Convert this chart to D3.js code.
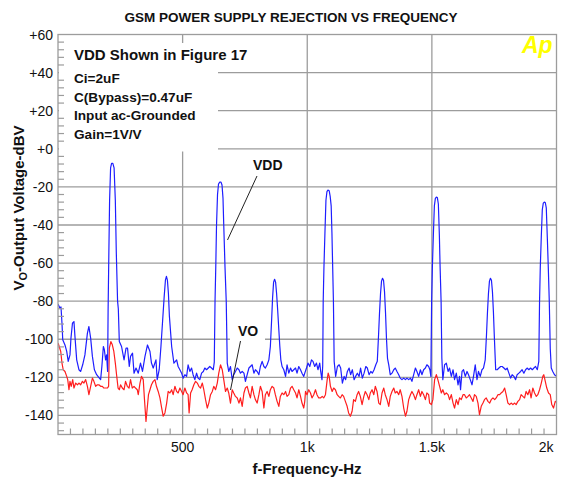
<!DOCTYPE html>
<html><head><meta charset="utf-8">
<script src="https://cdn.jsdelivr.net/npm/d3@7"></script>
<style>
body{margin:0;background:#fff}
svg{display:block}
text{font-family:"Liberation Sans",Arial,Helvetica,sans-serif}
</style>
</head><body>
<svg id="chart" width="564" height="480"></svg>
<script>
// ---- data ----
const title = "GSM POWER SUPPLY REJECTION VS FREQUENCY";
const xTicks = [500, 1000, 1500, 2000];
const xTickLabels = ["500", "1k", "1.5k", "2k"];
const yTicks = [60, 40, 20, 0, -20, -40, -60, -80, -100, -120, -140];
const yTickLabels = ["+60", "+40", "+20", "+0", "-20", "-40", "-60", "-80", "-100", "-120", "-140"];
const noteTitle = "VDD Shown in Figure 17";
const noteLines = ["Ci=2uF", "C(Bypass)=0.47uF", "Input ac-Grounded", "Gain=1V/V"];

// VDD trace: [frequency Hz, dBV]
const vdd = [
[0,-81.5],[8,-83.7],[12,-83],[16,-91.6],[19,-100.3],[28,-103],[35,-106.4],[41,-111.6],[48,-108.2],[52,-99.4],[58,-91.6],[64,-90.7],[68,-98.5],[75,-110.8],[84,-116],[91,-116.9],[99,-113.4],[108,-108.2],[118,-96.8],[124,-93.3],[131,-99.4],[138,-109],[146,-116],[155,-118.6],[166,-120.4],[171,-121.2],[176,-114.3],[182,-103.8],[186,-105.5],[191,-110.8],[195,-108.2],[199,-116.9],
[201,-85],[204,-55],[207,-27],[211,-10],[215,-7.7],[220,-7.7],[225,-10],[230,-27],[234,-55],[239,-80],[242,-84],[246,-101.2],
[255,-103.8],[265,-110.8],[273,-104.7],[279,-104.7],[286,-114.3],[291,-109],[299,-107.3],[305,-117.8],[313,-115.1],[322,-117.8],[331,-112.5],[339,-116.9],[349,-109],[359,-103],[369,-106.4],[375,-112.5],[382,-115.1],[393,-110.8],[398,-121.2],[406,-116],[413,-103.8],
[420,-89.8],[426,-77.6],[431,-69],[435,-67],[439,-69],[443,-76],[447,-88],
[456,-103.8],[465,-112.5],[476,-110.8],[482,-114.3],[489,-116],[496,-117.8],[502,-120.4],[509,-118.6],[516,-119.5],[522,-113.4],[529,-116.9],[536,-115.1],[542,-118.6],[549,-121.2],[556,-117.8],[562,-120.4],[569,-121.2],[576,-117.8],[583,-116.9],[589,-115.1],[596,-116],[603,-115.1],[609,-114.3],[616,-115.1],[623,-116],[627,-112],
[630,-80],[633,-62],[636,-40],[640,-24],[644,-18.5],[649,-17.5],[654,-17.5],[658,-19],[662,-26],[665,-40],[670,-62],[675,-80],[679,-112.5],
[685,-116.9],[692,-114.3],[699,-121.2],[705,-118.6],[712,-116.9],[719,-115.1],[726,-116],[732,-117.8],[739,-116.9],[746,-117.8],[752,-122.1],[759,-118.6],[766,-115.1],[772,-114.3],[779,-113.4],[786,-117.8],[792,-116],[799,-116.9],[806,-118.6],[812,-114.3],[819,-111.6],[826,-114.3],[832,-115.1],[839,-113.4],[846,-110.8],
[852,-103.8],[857,-90],[861,-78],[865,-70],[869,-68.5],[873,-70],[877,-76],[881,-84],[886,-95],[890,-103.8],[894,-110.8],
[899,-114.3],[906,-116],[913,-119.5],[919,-113.4],[926,-117.8],[933,-115.1],[939,-116.9],[946,-116],[953,-115.1],[959,-117.8],[966,-114.3],[973,-116],[979,-117.8],[986,-119.5],[990,-117.8],[997,-115.1],[1003,-112.5],[1010,-114.3],[1017,-110.8],[1023,-111.6],[1030,-114.3],[1037,-112.5],[1043,-116],[1050,-112.5],[1054,-116.9],[1059,-121.2],
[1062,-114],[1064,-80],[1067,-62],[1071,-44],[1075,-27],[1079,-22.5],[1083,-21.7],[1088,-22],[1092,-25],[1096,-30],[1099,-44],[1102,-62],[1105,-80],[1108,-111.6],
[1114,-119.5],[1121,-114.3],[1128,-113.4],[1134,-115.1],[1141,-123],[1148,-119.5],[1154,-121.2],[1161,-116.9],[1168,-115.1],[1174,-118.6],[1181,-116],[1188,-121.2],[1194,-119.5],[1201,-117.8],[1208,-119.5],[1214,-115.1],[1221,-120.4],[1228,-117.8],[1235,-114.3],[1241,-115.1],[1248,-118.6],[1255,-116.9],[1261,-117.8],[1268,-116],[1275,-113.4],
[1281,-111.6],[1286,-98],[1290,-86],[1294,-76],[1298,-69.5],[1302,-68],[1306,-69],[1310,-75],[1314,-86],[1318,-100],[1322,-110],[1327,-113.4],
[1333,-118.6],[1340,-117.8],[1347,-116],[1353,-115.1],[1360,-116.9],[1367,-118.6],[1373,-120.4],[1380,-121.2],[1387,-120.4],[1394,-121.2],[1400,-120.4],[1407,-121.2],[1414,-120.4],[1420,-122.1],[1427,-118.6],[1434,-115.1],[1440,-116.9],[1447,-119.5],[1454,-116],[1460,-118.6],[1467,-116],[1474,-115.1],[1480,-113.4],[1487,-114.3],[1492,-116],[1496,-119.5],
[1499,-80],[1502,-62],[1506,-45],[1510,-30],[1514,-26],[1518,-25.4],[1522,-25.6],[1526,-29],[1530,-45],[1533,-62],[1537,-80],[1540,-110],
[1544,-121.2],[1551,-113.4],[1558,-112.5],[1565,-116.9],[1571,-115.1],[1578,-119.5],[1585,-116],[1591,-121.2],[1598,-117.8],[1605,-123.9],[1611,-119.5],[1615,-126.5],[1621,-116.9],[1627,-116],[1634,-119.5],[1641,-116.9],[1647,-118.6],[1654,-121.2],[1661,-123.9],[1667,-119.5],[1674,-113.4],[1681,-121.2],[1687,-116.9],[1694,-119.5],[1701,-116],[1707,-115.1],
[1714,-110.8],[1719,-98],[1723,-86],[1727,-76],[1731,-69.5],[1735,-68],[1739,-69],[1743,-75],[1747,-86],[1751,-100],[1756,-116],
[1762,-116],[1769,-115.1],[1776,-114.3],[1782,-114.3],[1789,-115.1],[1796,-116],[1802,-115.1],[1809,-117.8],[1816,-120.4],[1822,-118.6],[1829,-119.5],[1836,-121.2],[1842,-118.6],[1849,-117.8],[1856,-116.9],[1862,-116],[1869,-117.8],[1876,-116],[1882,-115.1],[1889,-116],[1896,-115.1],[1903,-116],[1909,-115.1],[1916,-114.3],[1923,-116],
[1929,-111.6],[1932,-80],[1935,-62],[1939,-46],[1943,-32],[1947,-28.5],[1951,-28],[1955,-28.2],[1959,-31],[1963,-46],[1967,-62],[1971,-80],[1975,-105],[1979,-115.1],
[1985,-116.9],[1992,-118.6],[2000,-119.5]
];

// VO trace: [frequency Hz, dBV]
const vo = [
[0,-102],[5,-103.8],[11,-106.4],[16,-112.5],[21,-116],[28,-116.9],[35,-119.5],[39,-121.2],[44,-126.5],[48,-122.1],[53,-124.7],[59,-121.2],[64,-125.6],[71,-123],[78,-123.9],[84,-123],[91,-123.9],[98,-122.1],[104,-123],[111,-121.2],[118,-124.7],[124,-129.1],[131,-124.7],[138,-120.4],[144,-122.1],[151,-124.7],[158,-123.9],[164,-123.9],[171,-124.7],[178,-124.7],[184,-125.6],[191,-125.6],[198,-125.6],[203,-124.7],[206,-104.7],[212,-101.2],[218,-102.9],[224,-106.4],[230,-112.5],[235,-118.6],[241,-125.6],[246,-126.5],[251,-123.9],[258,-125.6],[265,-126.5],[271,-122.1],[278,-124.7],[285,-125.6],[291,-121.2],[298,-125.6],[305,-124.7],[311,-125.6],[318,-126.5],[322,-129.1],[329,-123],[335,-119.5],[342,-121.2],[347,-131.7],[353,-143.1],[358,-136.1],[363,-129.1],[369,-126.5],[375,-123.9],[382,-122.1],[389,-121.2],[395,-124.7],[402,-127.4],[409,-130.8],[416,-136.1],[422,-140.4],[429,-138.7],[436,-133.5],[442,-127.4],[449,-128.2],[456,-126.5],[462,-129.1],[469,-124.7],[476,-127.4],[482,-128.2],[489,-125.6],
[496,-127.4],[502,-129.1],[509,-125.6],[516,-128.2],[522,-129.1],[526,-138.7],[532,-128.2],[538,-126.5],[545,-123.9],[552,-122.1],[559,-123],[565,-124.7],[572,-125.6],[579,-123],[585,-126.5],[592,-131.7],[599,-136.1],[605,-133.5],[612,-129.1],[619,-127.4],[625,-124.7],[632,-126.5],[639,-123],[645,-117.8],[652,-113.4],[659,-116],[665,-121.2],[672,-127.4],[679,-125.6],[685,-128.2],[692,-133.5],[699,-126.5],[705,-128.2],[712,-130],[719,-130.8],[726,-133.5],[732,-130.8],[739,-135.2],[746,-128.2],[752,-125.6],[759,-124.7],[766,-128.2],[772,-130.8],[779,-124.7],[786,-129.1],[792,-131.7],[799,-133.5],[806,-129.1],[812,-124.7],[819,-127.4],[826,-136.1],[832,-129.1],[839,-127.4],[846,-130],[852,-126.5],[859,-124.7],[866,-125.6],[872,-129.1],[879,-132.6],[886,-135.2],[892,-130],[899,-128.2],[906,-129.1],[913,-127.4],[919,-130],[926,-129.1],[933,-125.6],[939,-124.7],[946,-126.5],[953,-128.2],[959,-130.8],[966,-126.5],[973,-130],[979,-133.5],[986,-136.1],[990,-132.6],
[993,-127.4],[999,-129.1],[1006,-126.5],[1013,-128.2],[1019,-130.8],[1026,-129.1],[1033,-126.5],[1039,-129.1],[1046,-130.8],[1053,-130.8],[1060,-130],[1066,-130.8],[1073,-129.1],[1080,-121.2],[1084,-117.8],[1088,-119.5],[1093,-124.7],[1100,-127.4],[1106,-125.6],[1113,-126.5],[1120,-129.1],[1126,-130],[1133,-130.8],[1140,-129.1],[1146,-130],[1153,-132.6],[1160,-135.2],[1166,-138.7],[1173,-140.4],[1180,-137.8],[1186,-131.7],[1193,-132.6],[1200,-129.1],[1206,-127.4],[1213,-130],[1220,-134.3],[1227,-130],[1233,-127.4],[1240,-129.1],[1247,-131.7],[1253,-128.2],[1260,-126.5],[1267,-129.1],[1273,-124.7],[1280,-127.4],[1287,-133.5],[1293,-134.3],[1300,-128.2],[1307,-125.6],[1313,-129.1],[1320,-131.7],[1327,-135.2],[1333,-130],[1340,-127.4],[1347,-125.6],[1353,-128.2],[1360,-127.4],[1367,-129.1],[1373,-126.5],[1380,-130],[1387,-136.1],[1394,-140.4],[1400,-137.8],[1407,-131.7],[1414,-129.1],[1420,-127.4],[1427,-129.1],[1434,-131.7],[1440,-129.1],[1447,-126.5],[1454,-130],[1460,-127.4],[1467,-129.1],[1474,-131.7],[1480,-128.2],[1487,-129.1],[1491,-133.5],
[1498,-134.3],[1504,-131.7],[1511,-121.2],[1518,-118.6],[1524,-121.2],[1531,-124.7],[1538,-128.2],[1544,-126.5],[1551,-129.1],[1558,-128.2],[1565,-129.1],[1571,-131.7],[1578,-129.1],[1585,-133.5],[1591,-136.1],[1598,-131.7],[1605,-134.3],[1611,-130.8],[1618,-131.7],[1625,-129.1],[1631,-129.1],[1638,-130.8],[1645,-130],[1651,-129.1],[1658,-130.8],[1665,-132.6],[1671,-129.1],[1678,-130],[1685,-133.5],[1691,-139.6],[1698,-135.2],[1705,-133.5],[1711,-131.7],[1718,-130.8],[1725,-132.6],[1732,-133.5],[1738,-131.7],[1745,-130.8],[1752,-131.7],[1758,-130.8],[1765,-129.1],[1772,-129.1],[1778,-128.2],[1785,-127.4],[1792,-125.6],[1798,-129.1],[1805,-133.5],[1812,-134.3],[1818,-133.5],[1825,-134.3],[1832,-133.5],[1838,-134.3],[1845,-132.6],[1852,-131.7],[1858,-129.1],[1865,-130],[1872,-130.8],[1878,-127.4],[1885,-129.1],[1892,-126.5],[1898,-130.8],[1905,-125.6],[1912,-128.2],[1919,-130],[1925,-129.1],[1932,-126.5],[1939,-123],[1945,-119.5],[1949,-118.6],[1955,-122.1],[1961,-125.6],[1968,-128.2],[1975,-129.1],[1981,-134.3],[1988,-136.1],[1995,-132.6],[2000,-133]
];

// ---- layout ----
const svg = d3.select("#chart");
const L = 58, R = 556.5, T = 34.5, B = 434.5;
const x = d3.scaleLinear().domain([0, 2000]).range([L, R]);
const y = d3.scaleLinear().domain([-150, 60]).range([B, T]);
const gridColor = "#9c9c9c";

svg.append("rect").attr("width", 564).attr("height", 480).attr("fill", "#fff");

// title
svg.append("text").attr("x", 291).attr("y", 22).attr("text-anchor", "middle")
  .attr("font-size", 13.5).attr("font-weight", "bold").attr("fill", "#111").text(title);

// clip
svg.append("clipPath").attr("id", "plotclip").append("rect")
  .attr("x", L).attr("y", T).attr("width", R - L).attr("height", B - T);

// grid
const grid = svg.append("g").attr("stroke", gridColor).attr("stroke-width", 1.3);
grid.selectAll("line.h").data(yTicks.filter(d => d > -150 && d < 60)).join("line")
  .attr("x1", L).attr("x2", R).attr("y1", d => y(d)).attr("y2", d => y(d));
grid.selectAll("line.v").data(xTicks.filter(d => d < 2000)).join("line").attr("class", "v")
  .attr("x1", d => x(d)).attr("x2", d => x(d)).attr("y1", T).attr("y2", B);

// note box (white background)
svg.append("rect").attr("x", L + 1).attr("y", 43).attr("width", 218 - L - 1).attr("height", 108.5).attr("fill", "#fff");
const note = svg.append("g").attr("font-weight", "bold").attr("fill", "#111");
note.append("text").attr("x", 74).attr("y", 60).attr("font-size", 15).text(noteTitle);
note.selectAll("text.l").data(noteLines).join("text").attr("class", "l")
  .attr("x", 74).attr("y", (d, i) => 83.3 + i * 18.4).attr("font-size", 13.6).text(d => d);

// data lines
const line = d3.line().x(d => x(d[0])).y(d => y(d[1]));
const plot = svg.append("g").attr("clip-path", "url(#plotclip)");
plot.append("path").datum(vo).attr("d", line).attr("fill", "none")
  .attr("stroke", "#ff1e1e").attr("stroke-width", 1.2).attr("stroke-linejoin", "round");
plot.append("path").datum(vdd).attr("d", line).attr("fill", "none")
  .attr("stroke", "#1e1eff").attr("stroke-width", 1.2).attr("stroke-linejoin", "round");

// border
svg.append("rect").attr("x", L).attr("y", T).attr("width", R - L).attr("height", B - T)
  .attr("fill", "none").attr("stroke", gridColor).attr("stroke-width", 1.3);

// minor ticks
const minorY = d3.range(-148, 60, 4).filter(d => d % 20 !== 0);
svg.append("g").attr("stroke", gridColor).attr("stroke-width", 1.2)
  .selectAll("line").data(minorY).join("line")
  .attr("x1", L).attr("x2", L + 6).attr("y1", d => y(d)).attr("y2", d => y(d));
const minorX = d3.range(50, 2000, 50).filter(d => d % 500 !== 0);
svg.append("g").attr("stroke", gridColor).attr("stroke-width", 1.2)
  .selectAll("line").data(minorX).join("line")
  .attr("x1", d => x(d)).attr("x2", d => x(d)).attr("y1", B).attr("y2", B - 6);

// y tick labels
svg.append("g").attr("font-size", 14).attr("fill", "#111").attr("text-anchor", "end")
  .selectAll("text").data(yTicks).join("text")
  .attr("x", 53).attr("y", d => y(d) + 5).text((d, i) => yTickLabels[i]);

// x tick labels
svg.append("g").attr("font-size", 14).attr("fill", "#111")
  .selectAll("text").data(xTicks).join("text")
  .attr("x", (d, i) => i === xTicks.length - 1 ? x(d) - 3 : x(d))
  .attr("text-anchor", (d, i) => i === xTicks.length - 1 ? "end" : "middle")
  .attr("y", 452).text((d, i) => xTickLabels[i]);

// axis titles
svg.append("text").attr("x", 307).attr("y", 474).attr("text-anchor", "middle")
  .attr("font-size", 15).attr("font-weight", "bold").attr("fill", "#111").text("f-Frequency-Hz");
const yl = svg.append("text").attr("transform", "translate(24,208) rotate(-90)")
  .attr("text-anchor", "middle").attr("font-size", 15).attr("font-weight", "bold").attr("fill", "#111");
yl.append("tspan").text("V");
yl.append("tspan").attr("font-size", 11).attr("dy", 3).text("O");
yl.append("tspan").attr("dy", -3).text("-Output Voltage-dBV");

// series labels
svg.append("rect").attr("x", 230).attr("y", 323).attr("width", 35).attr("height", 20).attr("fill", "#fff");
svg.append("text").attr("x", 238).attr("y", 336).attr("font-size", 14).attr("font-weight", "bold").attr("fill", "#111").text("VO");
svg.append("text").attr("x", 253).attr("y", 170).attr("font-size", 14).attr("font-weight", "bold").attr("fill", "#111").text("VDD");
svg.append("g").attr("stroke", "#222").attr("stroke-width", 1)
  .selectAll("line").data([[257, 176, 227.5, 240], [240.5, 341, 230.5, 390]]).join("line")
  .attr("x1", d => d[0]).attr("y1", d => d[1]).attr("x2", d => d[2]).attr("y2", d => d[3]);

// Ap logo
svg.append("text").attr("x", 522).attr("y", 53).attr("font-size", 23).attr("font-weight", "bold")
  .attr("font-style", "italic").attr("fill", "#ffff00").text("Ap");
</script>
</body></html>
